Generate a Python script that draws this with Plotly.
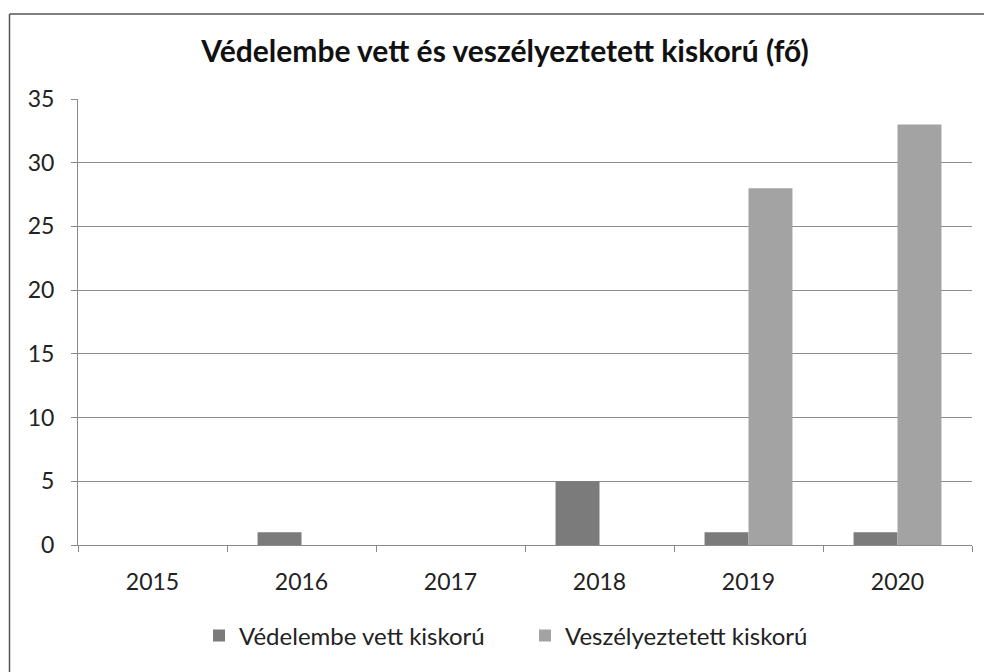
import plotly.graph_objects as go

years = ["2015", "2016", "2017", "2018", "2019", "2020"]
vedelembe = [0, 1, 0, 5, 1, 1]
veszelyeztetett = [0, 0, 0, 0, 28, 33]
series_names = ["Védelembe vett kiskorú", "Veszélyeztetett kiskorú"]
title_text = "Védelembe vett és veszélyeztetett kiskorú (fő)"

fig = go.Figure()
fig.add_trace(go.Bar(x=years, y=vedelembe, name=series_names[0],
                     marker=dict(color="#7b7b7b", line=dict(width=0))))
fig.add_trace(go.Bar(x=years, y=veszelyeztetett, name=series_names[1],
                     marker=dict(color="#a3a3a3", line=dict(width=0))))

# page body has an 8px margin, so figure coordinates = reference - 8
OFF = 8
W, H = 992 - OFF, 672 - OFF
L, T = 78 - OFF, 99 - OFF
R = W - (972 - OFF)
B = H - (545 - OFF)
pw, ph = W - L - R, H - T - B

fig.update_layout(
    width=W, height=H,
    margin=dict(l=L, r=R, t=T, b=B),
    paper_bgcolor="white", plot_bgcolor="white",
    barmode="group", bargap=0.41, bargroupgap=0,
    font=dict(family="Lato, Open Sans, sans-serif", color="#222", size=24),
    title=dict(text="<b>" + title_text + "</b>", x=(505 - OFF - L) / pw, xref="paper",
               xanchor="center", y=1 - (51 - OFF) / H, yanchor="middle",
               font=dict(size=30, color="#111")),
    legend=dict(orientation="h", x=(199 - OFF - L) / pw, xref="paper", xanchor="left",
                y=-(636 - 545) / ph, yanchor="middle",
                font=dict(size=24), traceorder="normal",
                entrywidthmode="pixels", entrywidth=281),
    showlegend=True,
)
fig.update_xaxes(type="category", showline=True, linecolor="#8a8a8a", linewidth=1,
                 ticks="outside", tickson="boundaries", ticklen=6, tickcolor="#8a8a8a",
                 showgrid=False, tickfont=dict(size=23), ticklabelstandoff=16)
fig.update_yaxes(range=[0, 35], dtick=5, showline=True, linecolor="#8a8a8a", linewidth=1,
                 ticks="outside", ticklen=6, tickcolor="#8a8a8a",
                 showgrid=True, gridcolor="#8c8c8c", gridwidth=1,
                 zeroline=False, tickfont=dict(size=23), ticklabelstandoff=12)

# outer chart border (top and left edges visible in the reference)
x_left = (8 - OFF - L) / pw
y_top = 1 + (T - 6) / ph
fig.add_shape(type="line", xref="paper", yref="paper",
              x0=x_left + 1.5 / pw, x1=(992 - OFF - L) / pw, y0=y_top, y1=y_top,
              line=dict(color="#555", width=1.5))
fig.add_shape(type="line", xref="paper", yref="paper",
              x0=x_left + 1.5 / pw, x1=x_left + 1.5 / pw, y0=y_top, y1=-B / ph,
              line=dict(color="#555", width=1.5))

fig.write_html("out.html")
